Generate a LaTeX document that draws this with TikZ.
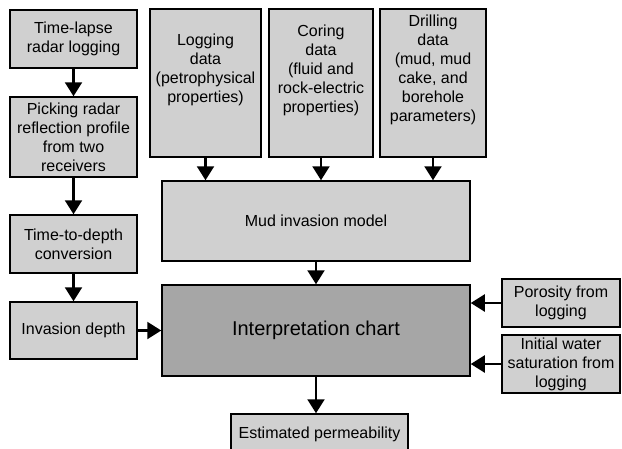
\documentclass[tikz,border=0pt]{standalone}
\usepackage{fontspec}
\setmainfont{Liberation Sans}
\usetikzlibrary{arrows.meta}
\definecolor{boxgray}{HTML}{D0D0D0}
\definecolor{darkgray}{HTML}{A6A6A6}
\begin{document}
\begin{tikzpicture}[x=1pt,y=-1pt,
  box/.style={draw=black, line width=1.5pt, fill=boxgray, inner sep=0pt, align=center,
    font=\fontsize{16}{19}\selectfont},
  txt/.style={inner sep=0pt, align=center, font=\fontsize{16}{19}\selectfont},
  conn/.style={line width=2.2pt, -{Triangle[length=14pt,width=17pt]}}]
\useasboundingbox (0,0) rectangle (622,448);
\clip (0,0) rectangle (622,448);
\fill[white] (0,0) rectangle (622,448);
% left column
\node[box, minimum width=127pt, minimum height=58pt] (t1) at (73.5,39) {Time-lapse\\radar logging};
\node[box, minimum width=127pt, minimum height=80pt] (t2) at (73.5,137) {Picking radar\\reflection profile\\from two\\receivers};
\node[box, minimum width=127pt, minimum height=58pt] (t3) at (73.5,244) {Time-to-depth\\conversion};
\node[box, minimum width=127pt, minimum height=57pt] (t4) at (73.5,330.5) {Invasion depth};
% top data boxes
\node[box, minimum width=111pt, minimum height=148pt] (log) at (205.5,83) {};
\node[txt] (logt) at (205.5,70) {Logging\\data\\(petrophysical\\properties)};
\node[box, minimum width=104pt, minimum height=148pt] (cor) at (321,83) {};
\node[txt] (cort) at (321,70) {Coring\\data\\(fluid and\\rock-electric\\properties)};
\node[box, minimum width=106pt, minimum height=148pt] (dri) at (433,83) {};
\node[txt] (drit) at (433,70) {Drilling\\data\\(mud, mud\\cake, and\\borehole\\parameters)};
% middle
\node[box, minimum width=308pt, minimum height=80pt] (mud) at (316,221) {Mud invasion model};
\node[box, fill=darkgray, minimum width=308pt, minimum height=91pt,
  font=\fontsize{20}{24}\selectfont] (interp) at (316,330.5) {Interpretation chart};
\node[box, minimum width=177pt, minimum height=40pt] (est) at (319.5,434) {Estimated permeability};
% right
\node[box, minimum width=118pt, minimum height=48pt] (por) at (561,303) {Porosity from\\logging};
\node[box, minimum width=118pt, minimum height=58pt] (ini) at (561,364) {Initial water\\saturation from\\logging};
% connectors
\draw[conn] (t1) -- (t2);
\draw[conn] (t2) -- (t3);
\draw[conn] (t3) -- (t4);
\draw[conn] (t4.east) -- (t4.east -| interp.west);
\draw[conn] (log.south) -- (log.south |- mud.north);
\draw[conn] (cor.south) -- (cor.south |- mud.north);
\draw[conn] (dri.south) -- (dri.south |- mud.north);
\draw[conn] (mud.south) -- (interp.north);
\draw[conn] (interp.south) -- (interp.south |- est.north);
\draw[conn] (por.west) -- (por.west -| interp.east);
\draw[conn] (ini.west) -- (ini.west -| interp.east);
\end{tikzpicture}
\end{document}
